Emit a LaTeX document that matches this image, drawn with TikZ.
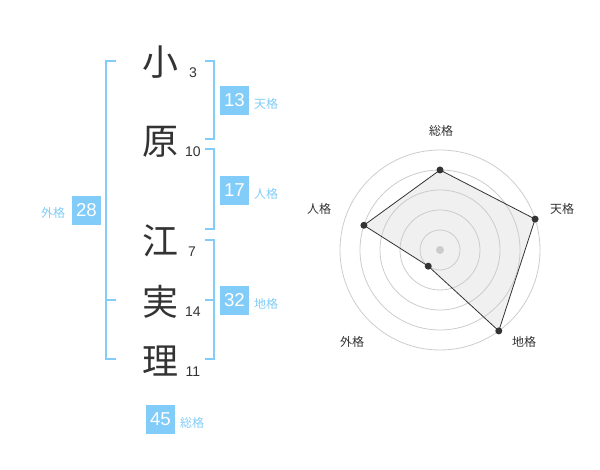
\documentclass[tikz,border=0pt]{standalone}
\usepackage{fontspec}
\setmainfont{Liberation Sans}
\newfontfamily\jp{Noto Sans CJK JP}
\definecolor{kblue}{RGB}{129,204,248}
\definecolor{ktext}{RGB}{51,51,51}
\definecolor{kring}{RGB}{204,204,204}
\definecolor{kfill}{RGB}{240,240,240}
\tikzset{
  kanji/.style={font=\jp\fontsize{27}{27}\selectfont, text=ktext, inner sep=0pt},
  stroke/.style={font=\fontsize{10.5}{10.5}\selectfont, text=ktext, inner sep=0pt},
  badge/.style={fill=kblue, text=white, minimum size=21.75pt, inner sep=0pt, font=\fontsize{14}{14}\selectfont},
  blab/.style={font=\jp\fontsize{9}{9}\selectfont, text=kblue, inner sep=0pt},
  brk/.style={draw=kblue, line width=1.5pt},
  rlab/.style={font=\jp\fontsize{9}{9}\selectfont, text=ktext, inner sep=0pt},
  ring/.style={draw=kring, line width=0.6pt},
  rdot/.style={fill=ktext},
}
\begin{document}
\begin{tikzpicture}[x=0.75pt,y=-0.75pt]
\useasboundingbox (0,0) rectangle (600,470);
% kanji
\node[kanji] (k1) at (160,62) {小};
\node[kanji] (k2) at (160,142) {原};
\node[kanji] (k3) at (160,241) {江};
\node[kanji] (k4) at (160,302) {実};
\node[kanji] (k5) at (160,361) {理};
% stroke counts
\node[stroke] (n1) at (193,73) {3};
\node[stroke] (n2) at (193,152) {10};
\node[stroke] (n3) at (192,252) {7};
\node[stroke] (n4) at (193,312) {14};
\node[stroke] (n5) at (193,372) {11};
% brackets
\draw[brk] (116,61) -- (106,61) -- (106,359) -- (116,359);
\draw[brk] (106,300) -- (116,300);
\draw[brk] (205,61) -- (214,61) -- (214,139) -- (205,139);
\draw[brk] (205,149) -- (214,149) -- (214,229) -- (205,229);
\draw[brk] (205,240) -- (214,240) -- (214,359) -- (205,359);
\draw[brk] (205,300) -- (214,300);
% badges
\node[badge] (b1) at (234.5,100.5) {13};
\node[blab] (l1) at (266,104) {天格};
\node[badge] (b2) at (234.5,190.5) {17};
\node[blab] (l2) at (266,194) {人格};
\node[badge] (b3) at (86.5,210.5) {28};
\node[blab] (l3) at (53,213) {外格};
\node[badge] (b4) at (234.5,300.5) {32};
\node[blab] (l4) at (266,304) {地格};
\node[badge] (b5) at (160.5,419.5) {45};
\node[blab] (l5) at (192,423) {総格};
% radar
\coordinate (c) at (440,250);
\coordinate (p1) at ([shift={(-90:80)}]c);
\coordinate (p2) at ([shift={(-18:100)}]c);
\coordinate (p3) at ([shift={(54:100)}]c);
\coordinate (p4) at ([shift={(126:20)}]c);
\coordinate (p5) at ([shift={(198:80)}]c);
\fill[kfill] (p1) -- (p2) -- (p3) -- (p4) -- (p5) -- cycle;
\foreach \r in {20,40,60,80,100} \draw[ring] (c) circle[radius=\r];
\fill[kring] (c) circle[radius=4];
\draw[ktext, line width=0.6pt] (p1) -- (p2) -- (p3) -- (p4) -- (p5) -- cycle;
\foreach \p in {p1,p2,p3,p4,p5} \fill[rdot] (\p) circle[radius=3.5];
\node[rlab] (r1) at (441,131) {総格};
\node[rlab] (r2) at (562,209) {天格};
\node[rlab] (r3) at (524,342) {地格};
\node[rlab] (r4) at (352,342) {外格};
\node[rlab] (r5) at (319,209) {人格};
\end{tikzpicture}
\end{document}
